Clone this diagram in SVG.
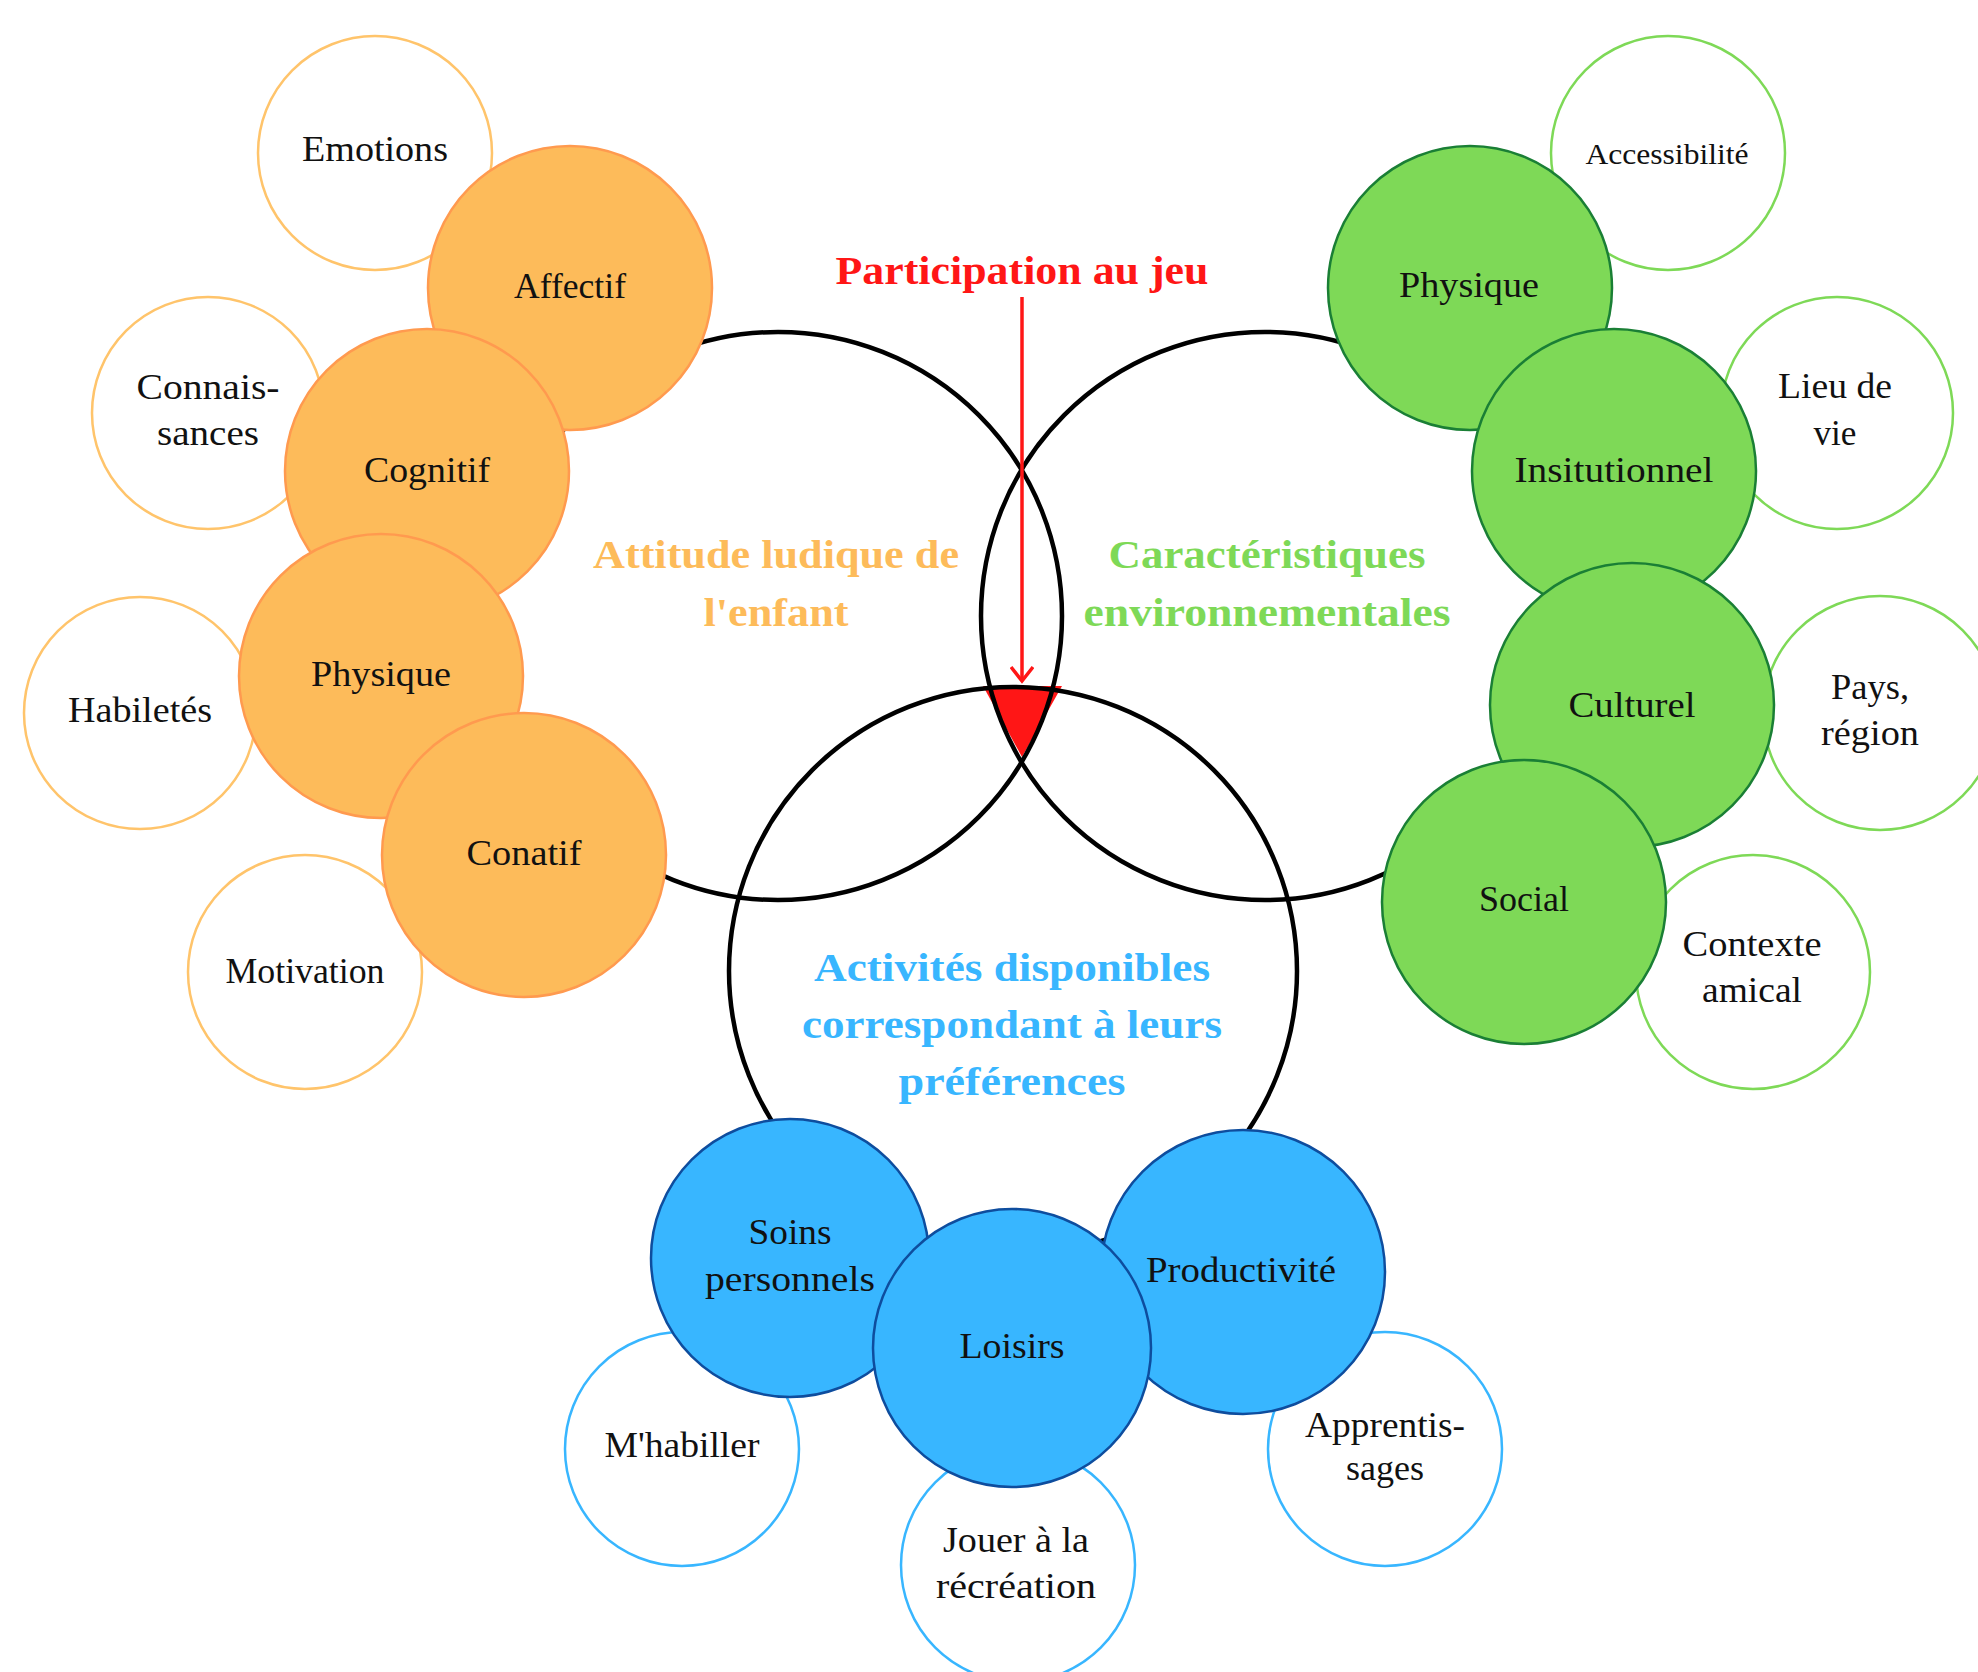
<svg xmlns="http://www.w3.org/2000/svg" width="1978" height="1672" viewBox="0 0 1978 1672">
<style>
.big{fill:none;stroke:#000;stroke-width:4.5}
.o{fill:#FDBB5A;stroke:#FF9A4F;stroke-width:2.5}
.ow{fill:#fff;stroke:#FFC46B;stroke-width:2.5}
.g{fill:#7ED957;stroke:#1A7F35;stroke-width:2.5}
.gw{fill:#fff;stroke:#7ED957;stroke-width:2.5}
.b{fill:#38B6FF;stroke:#0E4D9E;stroke-width:2.5}
.bw{fill:#fff;stroke:#38B6FF;stroke-width:2.5}
text{font-family:"Liberation Serif","DejaVu Serif",serif;text-anchor:middle}
.t{font-size:35px;fill:#111}
.h{font-size:40px;font-weight:bold}
</style>
<defs>
<marker id="arr" viewBox="0 0 24 24" refX="20" refY="12" markerWidth="24" markerHeight="24" markerUnits="userSpaceOnUse" orient="auto">
<path d="M6,1 L20,12 L6,23" fill="none" stroke="#FF1616" stroke-width="3.5"/>
</marker>
</defs>

<g id="participation-zone">
<polygon points="983,686 1062,686 1022,757" fill="#FF1616"/>
</g>

<g id="connectors">
<circle class="big" cx="778" cy="616" r="284"/>
<circle class="big" cx="1265" cy="616" r="284"/>
<circle class="big" cx="1013" cy="971" r="284"/>
<line x1="1022" y1="297" x2="1022" y2="681" stroke="#FF1616" stroke-width="3.5" marker-end="url(#arr)"/>
</g>

<g id="title"><text class="h" x="1022" y="284" fill="#FF1616" textLength="373" lengthAdjust="spacingAndGlyphs">Participation au jeu</text></g>

<g id="attitude">
<text class="h" x="776" y="568" fill="#FDBB5A" textLength="366" lengthAdjust="spacingAndGlyphs">Attitude ludique de</text>
<text class="h" x="776" y="626" fill="#FDBB5A" textLength="145" lengthAdjust="spacingAndGlyphs">l'enfant</text>
</g>
<g id="environnement">
<text class="h" x="1267" y="568" fill="#7ED957" textLength="317" lengthAdjust="spacingAndGlyphs">Caractéristiques</text>
<text class="h" x="1267" y="626" fill="#7ED957" textLength="367" lengthAdjust="spacingAndGlyphs">environnementales</text>
</g>
<g id="activites">
<text class="h" x="1012" y="981" fill="#38B6FF" textLength="396" lengthAdjust="spacingAndGlyphs">Activités disponibles</text>
<text class="h" x="1012" y="1038" fill="#38B6FF" textLength="420" lengthAdjust="spacingAndGlyphs">correspondant à leurs</text>
<text class="h" x="1012" y="1095" fill="#38B6FF" textLength="227" lengthAdjust="spacingAndGlyphs">préférences</text>
</g>

<!-- orange -->
<g id="emotions"><circle class="ow" cx="375" cy="153" r="117"/><text class="t" x="375" y="161" textLength="146" lengthAdjust="spacingAndGlyphs">Emotions</text></g>
<g id="connaissances"><circle class="ow" cx="208" cy="413" r="116"/><text class="t" x="208" y="399" textLength="143" lengthAdjust="spacingAndGlyphs">Connais-</text><text class="t" x="208" y="445" textLength="102" lengthAdjust="spacingAndGlyphs">sances</text></g>
<g id="habiletes"><circle class="ow" cx="140" cy="713" r="116"/><text class="t" x="140" y="722" textLength="144" lengthAdjust="spacingAndGlyphs">Habiletés</text></g>
<g id="motivation"><circle class="ow" cx="305" cy="972" r="117"/><text class="t" x="305" y="983" textLength="159" lengthAdjust="spacingAndGlyphs">Motivation</text></g>
<g id="affectif"><circle class="o" cx="570" cy="288" r="142"/><text class="t" x="570" y="298" textLength="112" lengthAdjust="spacingAndGlyphs">Affectif</text></g>
<g id="cognitif"><circle class="o" cx="427" cy="471" r="142"/><text class="t" x="427" y="482" textLength="126" lengthAdjust="spacingAndGlyphs">Cognitif</text></g>
<g id="physique-o"><circle class="o" cx="381" cy="676" r="142"/><text class="t" x="381" y="686" textLength="140" lengthAdjust="spacingAndGlyphs">Physique</text></g>
<g id="conatif"><circle class="o" cx="524" cy="855" r="142"/><text class="t" x="524" y="865" textLength="115" lengthAdjust="spacingAndGlyphs">Conatif</text></g>

<!-- green -->
<g id="accessibilite"><circle class="gw" cx="1668" cy="153" r="117"/><text class="t" x="1667" y="164" style="font-size:30px" textLength="163" lengthAdjust="spacingAndGlyphs">Accessibilité</text></g>
<g id="lieu"><circle class="gw" cx="1837" cy="413" r="116"/><text class="t" x="1835" y="398" textLength="114" lengthAdjust="spacingAndGlyphs">Lieu de</text><text class="t" x="1835" y="445" textLength="43" lengthAdjust="spacingAndGlyphs">vie</text></g>
<g id="pays"><circle class="gw" cx="1880" cy="713" r="117"/><text class="t" x="1870" y="699" textLength="78" lengthAdjust="spacingAndGlyphs">Pays,</text><text class="t" x="1870" y="745" textLength="98" lengthAdjust="spacingAndGlyphs">région</text></g>
<g id="contexte"><circle class="gw" cx="1753" cy="972" r="117"/><text class="t" x="1752" y="956" textLength="139" lengthAdjust="spacingAndGlyphs">Contexte</text><text class="t" x="1752" y="1002" textLength="100" lengthAdjust="spacingAndGlyphs">amical</text></g>
<g id="physique-g"><circle class="g" cx="1470" cy="288" r="142"/><text class="t" x="1469" y="297" textLength="140" lengthAdjust="spacingAndGlyphs">Physique</text></g>
<g id="institutionnel"><circle class="g" cx="1614" cy="471" r="142"/><text class="t" x="1614" y="482" textLength="199" lengthAdjust="spacingAndGlyphs">Insitutionnel</text></g>
<g id="culturel"><circle class="g" cx="1632" cy="705" r="142"/><text class="t" x="1632" y="717" textLength="127" lengthAdjust="spacingAndGlyphs">Culturel</text></g>
<g id="social"><circle class="g" cx="1524" cy="902" r="142"/><text class="t" x="1524" y="911" textLength="90" lengthAdjust="spacingAndGlyphs">Social</text></g>

<!-- blue -->
<g id="mhabiller"><circle class="bw" cx="682" cy="1449" r="117"/><text class="t" x="682" y="1457" textLength="155" lengthAdjust="spacingAndGlyphs">M'habiller</text></g>
<g id="jouer"><circle class="bw" cx="1018" cy="1565" r="117"/><text class="t" x="1016" y="1552" textLength="146" lengthAdjust="spacingAndGlyphs">Jouer à la</text><text class="t" x="1016" y="1598" textLength="160" lengthAdjust="spacingAndGlyphs">récréation</text></g>
<g id="apprentissages"><circle class="bw" cx="1385" cy="1449" r="117"/><text class="t" x="1385" y="1437" textLength="160" lengthAdjust="spacingAndGlyphs">Apprentis-</text><text class="t" x="1385" y="1480" textLength="78" lengthAdjust="spacingAndGlyphs">sages</text></g>
<g id="soins"><circle class="b" cx="790" cy="1258" r="139"/><text class="t" x="790" y="1244" textLength="83" lengthAdjust="spacingAndGlyphs">Soins</text><text class="t" x="790" y="1291" textLength="170" lengthAdjust="spacingAndGlyphs">personnels</text></g>
<g id="productivite"><circle class="b" cx="1243" cy="1272" r="142"/><text class="t" x="1241" y="1282" textLength="190" lengthAdjust="spacingAndGlyphs">Productivité</text></g>
<g id="loisirs"><circle class="b" cx="1012" cy="1348" r="139"/><text class="t" x="1012" y="1358" textLength="105" lengthAdjust="spacingAndGlyphs">Loisirs</text></g>
</svg>
